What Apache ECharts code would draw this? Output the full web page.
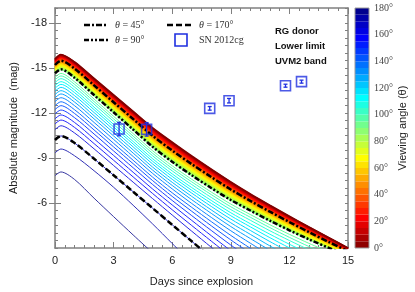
<!DOCTYPE html>
<html><head><meta charset="utf-8">
<script src="https://cdn.jsdelivr.net/npm/echarts@6/dist/echarts.min.js"></script>
<style>html,body{margin:0;padding:0;background:#fff}#c{width:415px;height:292px}</style>
</head><body><div id="c"></div>
<script>
// ---- data (time grid, light curves per viewing angle, observations) ----
const days = [0, 0.3, 1, 2, 3, 4, 5, 6, 7, 8, 9, 10, 11, 12, 13, 14, 15];

const theta0  = [-15.6, -15.9, -15.4, -14.3, -13.2, -12.1, -11.0, -10.05, -9.13, -8.25, -7.4, -6.6, -5.85, -5.12, -4.4, -3.7, -3.0];
const theta5  = [-15.57, -15.87, -15.37, -14.27, -13.17, -12.07, -10.97, -10.02, -9.09, -8.22, -7.37, -6.57, -5.82, -5.09, -4.38, -3.68, -2.99];
const theta10 = [-15.54, -15.84, -15.33, -14.23, -13.13, -12.02, -10.92, -9.97, -9.05, -8.17, -7.32, -6.53, -5.78, -5.06, -4.35, -3.66, -2.97];
const theta15 = [-15.5, -15.79, -15.29, -14.18, -13.08, -11.97, -10.87, -9.91, -8.99, -8.12, -7.27, -6.48, -5.74, -5.02, -4.31, -3.63, -2.95];
const theta20 = [-15.46, -15.75, -15.24, -14.13, -13.02, -11.92, -10.81, -9.85, -8.93, -8.06, -7.22, -6.43, -5.69, -4.98, -4.28, -3.6, -2.92];
const theta25 = [-15.41, -15.7, -15.19, -14.08, -12.97, -11.86, -10.75, -9.79, -8.87, -8.0, -7.16, -6.38, -5.64, -4.93, -4.24, -3.56, -2.9];
const theta30 = [-15.36, -15.65, -15.13, -14.02, -12.91, -11.8, -10.68, -9.72, -8.81, -7.93, -7.1, -6.32, -5.59, -4.88, -4.19, -3.53, -2.87];
const theta35 = [-15.31, -15.6, -15.08, -13.96, -12.85, -11.73, -10.62, -9.65, -8.74, -7.87, -7.03, -6.26, -5.53, -4.83, -4.15, -3.49, -2.85];
const theta40 = [-15.26, -15.54, -15.02, -13.9, -12.78, -11.66, -10.55, -9.58, -8.67, -7.8, -6.96, -6.2, -5.48, -4.78, -4.1, -3.45, -2.82];
const theta45 = [-15.2, -15.48, -14.96, -13.84, -12.72, -11.6, -10.48, -9.5, -8.59, -7.73, -6.9, -6.14, -5.42, -4.73, -4.06, -3.41, -2.79];
const theta50 = [-15.14, -15.43, -14.9, -13.77, -12.65, -11.52, -10.4, -9.43, -8.52, -7.65, -6.82, -6.07, -5.36, -4.67, -4.01, -3.37, -2.76];
const theta55 = [-15.09, -15.37, -14.83, -13.71, -12.58, -11.45, -10.33, -9.35, -8.44, -7.58, -6.75, -6.01, -5.29, -4.61, -3.96, -3.33, -2.73];
const theta60 = [-15.03, -15.3, -14.77, -13.64, -12.51, -11.38, -10.25, -9.27, -8.36, -7.5, -6.68, -5.94, -5.23, -4.55, -3.91, -3.29, -2.7];
const theta65 = [-14.97, -15.24, -14.7, -13.57, -12.43, -11.3, -10.17, -9.18, -8.28, -7.42, -6.6, -5.87, -5.16, -4.49, -3.85, -3.25, -2.67];
const theta70 = [-14.91, -15.18, -14.63, -13.5, -12.36, -11.22, -10.09, -9.1, -8.2, -7.34, -6.52, -5.8, -5.1, -4.43, -3.8, -3.2, -2.64];
const theta75 = [-14.84, -15.11, -14.56, -13.42, -12.29, -11.15, -10.01, -9.02, -8.11, -7.26, -6.45, -5.72, -5.03, -4.37, -3.75, -3.16, -2.6];
const theta80 = [-14.78, -15.05, -14.49, -13.35, -12.21, -11.06, -9.92, -8.93, -8.03, -7.17, -6.36, -5.65, -4.96, -4.31, -3.69, -3.11, -2.57];
const theta85 = [-14.72, -14.98, -14.42, -13.28, -12.13, -10.98, -9.84, -8.84, -7.94, -7.09, -6.28, -5.58, -4.89, -4.25, -3.64, -3.07, -2.53];
const theta90 = [-14.65, -14.91, -14.35, -13.2, -12.05, -10.9, -9.75, -8.75, -7.85, -7.0, -6.2, -5.5, -4.82, -4.18, -3.58, -3.02, -2.5];
const theta95 = [-14.38, -14.64, -14.08, -12.93, -11.78, -10.63, -9.48, -8.48, -7.58, -6.73, -5.93, -5.23, -4.55, -3.91, -3.31, -2.75];
const theta100 = [-14.21, -14.47, -13.91, -12.76, -11.61, -10.46, -9.31, -8.31, -7.41, -6.56, -5.75, -5.05, -4.36, -3.71, -3.1, -2.54];
const theta105 = [-14.03, -14.29, -13.73, -12.59, -11.44, -10.29, -9.14, -8.14, -7.23, -6.37, -5.56, -4.85, -4.15, -3.5, -2.88];
const theta110 = [-13.83, -14.09, -13.54, -12.39, -11.24, -10.1, -8.95, -7.94, -7.03, -6.17, -5.35, -4.62, -3.92, -3.25, -2.62];
const theta115 = [-13.65, -13.91, -13.36, -12.22, -11.07, -9.93, -8.78, -7.77, -6.85, -5.98, -5.15, -4.41, -3.69, -3.01, -2.36];
const theta120 = [-13.45, -13.71, -13.16, -12.03, -10.88, -9.74, -8.6, -7.58, -6.66, -5.77, -4.93, -4.17, -3.43, -2.73];
const theta125 = [-13.23, -13.49, -12.95, -11.82, -10.68, -9.54, -8.39, -7.38, -6.44, -5.54, -4.68, -3.91, -3.14, -2.42];
const theta130 = [-13.01, -13.27, -12.73, -11.61, -10.47, -9.33, -8.19, -7.17, -6.22, -5.31, -4.43, -3.63, -2.85];
const theta135 = [-12.76, -13.02, -12.49, -11.37, -10.24, -9.1, -7.97, -6.94, -5.97, -5.04, -4.15, -3.32, -2.51];
const theta140 = [-12.49, -12.75, -12.22, -11.11, -9.98, -8.85, -7.72, -6.68, -5.71, -4.76, -3.84, -2.98, -2.14];
const theta145 = [-12.23, -12.49, -11.97, -10.87, -9.74, -8.62, -7.49, -6.44, -5.45, -4.48, -3.54, -2.65];
const theta150 = [-11.94, -12.2, -11.69, -10.6, -9.47, -8.35, -7.23, -6.17, -5.16, -4.17, -3.2, -2.28];
const theta155 = [-11.61, -11.87, -11.37, -10.28, -9.17, -8.05, -6.93, -5.87, -4.84, -3.82, -2.82];
const theta160 = [-11.27, -11.53, -11.04, -9.96, -8.85, -7.74, -6.63, -5.55, -4.5, -3.46, -2.43];
const theta165 = [-10.89, -11.15, -10.67, -9.61, -8.5, -7.39, -6.29, -5.2, -4.12, -3.05, -1.99];
const theta170 = [-10.2, -10.47, -10.0, -8.95, -7.85, -6.75, -5.65, -4.55, -3.45, -2.35];
const theta175 = [-9.34, -9.6, -9.15, -8.15, -7.05, -5.85, -4.6, -3.3, -2.0];
const theta180 = [-7.82, -8.07, -7.57, -6.32, -5.09, -3.87, -2.67];

const curveAngles = [0,5,10,15,20,25,30,35,40,45,50,55,60,65,70,75,80,85,90,95,100,105,110,115,120,125,130,135,140,145,150,155,160,165,170,175,180];
const curveMags = [theta0,theta5,theta10,theta15,theta20,theta25,theta30,theta35,theta40,theta45,theta50,theta55,theta60,theta65,theta70,theta75,theta80,theta85,theta90,theta95,theta100,theta105,theta110,theta115,theta120,theta125,theta130,theta135,theta140,theta145,theta150,theta155,theta160,theta165,theta170,theta175,theta180];

const snDays = [3.28, 4.69, 7.92, 8.91, 11.8, 12.62];
const snMag  = [-10.93, -10.91, -12.31, -12.82, -13.82, -14.09];
const snErr  = [0.45, 0.45, 0.12, 0.15, 0.1, 0.1];

const yTickValues = [-18, -15, -12, -9, -6];
const colorbarBins = [0,5,10,15,20,25,30,35,40,45,50,55,60,65,70,75,80,85,90,95,100,105,110,115,120,125,130,135,140,145,150,155,160,165,170,175];

// ---- styling helpers ----
function clamp(v){ return Math.max(0, Math.min(1, v)); }
function jetRGB(theta){
  const v = 1 - theta/180;
  return [clamp(1.5 - Math.abs(4*v - 3)), clamp(1.5 - Math.abs(4*v - 2)), clamp(1.5 - Math.abs(4*v - 1))];
}
function rgb(c){ return 'rgb(' + c.map(x => Math.round(x*255)).join(',') + ')'; }
function jet(theta){ return rgb(jetRGB(theta)); }
function lineColor(theta){
  const c = jetRGB(theta);
  const f = theta > 120 ? 0.28 * (theta - 120) / 60 : 0;
  return rgb(c.map(x => x + (1 - x) * f * 0.6 + (theta > 120 ? f * 0.15 : 0)).map(x => clamp(x)));
}
function pairs(mags){ return mags.map((m,i) => [days[i], m]); }

const SANS = 'Liberation Sans';
const SERIF = 'Liberation Serif';
const AX = '#808080';
const BLUE = '#1f2fe0';
const DASH45 = [6, 2, 2, 2];
const DASH90 = [5, 2, 2, 2, 2, 2];
const DASH170 = [6, 3];

const series = [];
for (let k = curveAngles.length - 1; k >= 0; k--) {
  const th = curveAngles[k];
  series.push({
    name: 'c' + th, type: 'line', xAxisIndex: 0, yAxisIndex: 0,
    data: pairs(curveMags[k]), showSymbol: false, symbol: 'none',
    smooth: 0.3, clip: true, silent: true,
    lineStyle: { color: lineColor(th), width: th <= 90 ? 1.7 : 1.0 },
    z: 2
  });
}
[
  { name: 'θ45', data: theta45, type: DASH45 },
  { name: 'θ90', data: theta90, type: DASH90 },
  { name: 'θ170', data: theta170, type: DASH170 }
].forEach(b => {
  series.push({
    name: b.name, type: 'line', xAxisIndex: 0, yAxisIndex: 0,
    data: pairs(b.data), showSymbol: false, symbol: 'none',
    smooth: 0.3, clip: true, silent: true,
    lineStyle: { color: '#000', width: 2.5, type: b.type, cap: 'butt' },
    z: 4
  });
});
series.push({
  name: 'SN 2012cg', type: 'scatter', xAxisIndex: 0, yAxisIndex: 0,
  data: snDays.map((d,i) => [d, snMag[i]]),
  symbol: 'rect', symbolSize: 10,
  itemStyle: { color: 'rgba(255,255,255,0)', borderColor: BLUE, borderWidth: 1.6 },
  z: 6
});
series.push({
  name: 'err', type: 'custom', xAxisIndex: 0, yAxisIndex: 0, silent: true,
  data: snDays.map((d,i) => [d, snMag[i] - snErr[i], snMag[i] + snErr[i]]),
  renderItem: function(params, api){
    const x = api.value(0);
    const p1 = api.coord([x, api.value(1)]);
    const p2 = api.coord([x, api.value(2)]);
    const cw = 2;
    const st = { stroke: BLUE, lineWidth: 1.3 };
    return { type: 'group', children: [
      { type: 'line', shape: { x1: p1[0], y1: p1[1], x2: p2[0], y2: p2[1] }, style: st },
      { type: 'line', shape: { x1: p1[0]-cw, y1: p1[1], x2: p1[0]+cw, y2: p1[1] }, style: st },
      { type: 'line', shape: { x1: p2[0]-cw, y1: p2[1], x2: p2[0]+cw, y2: p2[1] }, style: st }
    ]};
  },
  z: 7
});
colorbarBins.forEach(th => {
  series.push({
    name: 'cb' + th, type: 'bar', xAxisIndex: 2, yAxisIndex: 4, stack: 'cb',
    data: [5], barWidth: '100%', silent: true,
    itemStyle: { color: jet(th + 2.5) }
  });
});

const tickStyle = { color: AX, width: 1 };
const yBase = { gridIndex: 0, type: 'value', min: -19, max: -3, inverse: true, splitLine: { show: false } };
const legText = { fontFamily: SERIF, fontSize: 10, fill: '#333',
  rich: { t: { fontFamily: SERIF, fontStyle: 'italic', fontSize: 10, fill: '#333', color: '#333' } } };

const option = {
  animation: false,
  backgroundColor: '#fff',
  grid: [
    { left: 54, right: 67, top: 8, bottom: 44, show: false },
    { left: 355, width: 14, top: 8, height: 240, show: true, borderColor: '#9a9a9a', borderWidth: 1, backgroundColor: 'transparent', z: 3 }
  ],
  title: {
    text: 'RG donor\nLower limit\nUVM2 band', left: 270, top: 19,
    textStyle: { fontFamily: SANS, fontWeight: 'bold', fontSize: 9.5, color: '#111', lineHeight: 15 }
  },
  graphic: [
    { type: 'line', shape: { x1: 84, y1: 25, x2: 108, y2: 25 }, style: { stroke: '#000', lineWidth: 2.5, lineDash: DASH45 } },
    { type: 'text', x: 115, y: 25, style: Object.assign({ text: '{t|θ} = 45°', verticalAlign: 'middle' }, legText) },
    { type: 'line', shape: { x1: 84, y1: 40, x2: 108, y2: 40 }, style: { stroke: '#000', lineWidth: 2.5, lineDash: DASH90 } },
    { type: 'text', x: 115, y: 40, style: Object.assign({ text: '{t|θ} = 90°', verticalAlign: 'middle' }, legText) },
    { type: 'line', shape: { x1: 167, y1: 25, x2: 193, y2: 25 }, style: { stroke: '#000', lineWidth: 2.5, lineDash: DASH170 } },
    { type: 'text', x: 199, y: 25, style: Object.assign({ text: '{t|θ} = 170°', verticalAlign: 'middle' }, legText) },
    { type: 'rect', shape: { x: 175, y: 34, width: 12, height: 12 }, style: { fill: 'none', stroke: BLUE, lineWidth: 1.6 } },
    { type: 'text', x: 199, y: 40, style: Object.assign({ text: 'SN 2012cg', verticalAlign: 'middle' }, legText) }
  ],
  xAxis: [
    { gridIndex: 0, type: 'value', min: 0, max: 15, interval: 3, position: 'bottom',
      axisLine: { show: true, onZero: false, lineStyle: { color: AX, width: 1.5 } },
      axisTick: { show: true, inside: true, length: 6, lineStyle: tickStyle },
      minorTick: { show: true, splitNumber: 6, length: 3, lineStyle: tickStyle },
      axisLabel: { color: '#222', fontSize: 11, fontFamily: SANS, margin: 7 },
      splitLine: { show: false }, minorSplitLine: { show: false },
      name: 'Days since explosion', nameLocation: 'middle', nameGap: 28,
      nameTextStyle: { fontFamily: SANS, fontSize: 11, color: '#222' } },
    { gridIndex: 0, type: 'value', min: 0, max: 15, interval: 3, position: 'top',
      axisLine: { show: true, onZero: false, lineStyle: { color: AX, width: 1.5 } },
      axisTick: { show: true, inside: true, length: 6, lineStyle: tickStyle },
      minorTick: { show: true, splitNumber: 6, length: 3, lineStyle: tickStyle },
      axisLabel: { show: false }, splitLine: { show: false } },
    { gridIndex: 1, type: 'category', data: ['cb'], show: false }
  ],
  yAxis: [
    Object.assign({}, yBase, { position: 'left', interval: 0.5,
      axisLine: { show: true, onZero: false, lineStyle: { color: AX, width: 1.5 } },
      axisTick: { show: true, inside: true, length: 3, lineStyle: tickStyle },
      axisLabel: { show: false } }),
    Object.assign({}, yBase, { position: 'left',
      axisLine: { show: false },
      axisTick: { show: true, inside: true, length: 6, lineStyle: tickStyle, customValues: yTickValues },
      axisLabel: { show: true, customValues: yTickValues, color: '#222', fontSize: 11, fontFamily: SANS, margin: 8 },
      name: 'Absolute magnitude  (mag)', nameLocation: 'middle', nameRotate: 90, nameGap: 36,
      nameTextStyle: { fontFamily: SANS, fontSize: 11, color: '#222' } }),
    Object.assign({}, yBase, { position: 'right', interval: 0.5,
      axisLine: { show: true, onZero: false, lineStyle: { color: AX, width: 1.5 } },
      axisTick: { show: true, inside: true, length: 3, lineStyle: tickStyle },
      axisLabel: { show: false } }),
    Object.assign({}, yBase, { position: 'right',
      axisLine: { show: false },
      axisTick: { show: true, inside: true, length: 6, lineStyle: tickStyle, customValues: yTickValues },
      axisLabel: { show: false } }),
    { gridIndex: 1, type: 'value', min: 0, max: 180, interval: 20, position: 'right',
      axisLine: { show: false }, axisTick: { show: false }, splitLine: { show: false },
      axisLabel: { formatter: '{value}°', fontFamily: SERIF, fontSize: 10, color: '#444', margin: 5 },
      name: 'Viewing angle (θ)', nameLocation: 'middle', nameRotate: 90, nameGap: 28,
      nameTextStyle: { fontFamily: SANS, fontSize: 11, color: '#222' } }
  ],
  series: series
};
const chart = echarts.init(document.getElementById('c'), null, { renderer: 'canvas' });
chart.setOption(option);
</script></body></html>
